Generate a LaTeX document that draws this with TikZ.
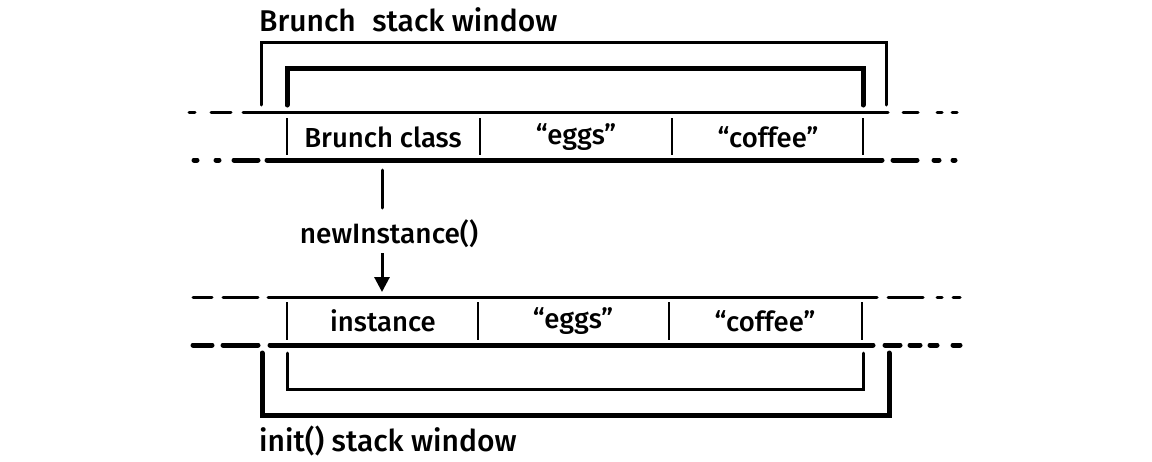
\documentclass[tikz,border=0pt]{standalone}
\usepackage{fontspec}
\setmainfont{Fira Sans}[UprightFont={* Medium}]
\usetikzlibrary{arrows.meta}
\begin{document}
\begin{tikzpicture}[x=1pt,y=-1pt,
  thinline/.style={line width=3pt, line cap=round},
  thickline/.style={line width=5pt, line cap=round},
  celltext/.style={font=\fontsize{27.5}{30}\selectfont, inner sep=0pt, anchor=center},
  labeltext/.style={font=\fontsize{30}{34}\selectfont, inner sep=0pt, anchor=west},
  divider/.style={line width=2.8pt}]
\useasboundingbox (0,0) rectangle (1152,461);

% ---------- top stack row ----------
\draw[thinline] (243,112) -- (888,112);
\draw[thinline] (189,112) -- (195,112);
\draw[thinline] (211,112) -- (231,112);
\draw[thinline] (903,112) -- (918,112);
\draw[thinline] (937,112) -- (942,112);
\draw[thinline] (952,112) -- (957,112);

\draw[thickline] (267,160) -- (882,160);
\draw[thickline] (194,160) -- (197,160);
\draw[thickline] (216,160) -- (219,160);
\draw[thickline] (234,160) -- (258,160);
\draw[thickline] (893,160) -- (917,160);
\draw[thickline] (934,160) -- (939,160);
\draw[thickline] (953,160) -- (955,160);

\foreach \x in {287,480,672,863} \draw[divider] (\x,118) -- (\x,155);

\node[celltext] (brunch) at (383,137) {Brunch class};
\node[celltext] (eggsA) at (576,137) {“eggs”};
\node[celltext] (coffeeA) at (768,137) {“coffee”};

% top brackets
\draw[thinline] (261,105) -- (261,42) -- (886,42) -- (886,105);
\draw[thickline] (287,105) -- (287,68) -- (863,68) -- (863,105);
\node[labeltext] (toplabel) at (259,20) {Brunch\hspace{0.3em} stack window};

% ---------- arrow ----------
\coordinate (a1) at (382,170);
\coordinate (a2) at (382,208);
\coordinate (a3) at (382,253);
\coordinate (a4) at (382,292);
\draw[thinline] (a1) -- (a2);
\node[font=\fontsize{28}{30}\selectfont, inner sep=0pt] (call) at (389,234) {newInstance()};
\draw[thinline, -{Triangle[length=15pt,width=15pt]}, line cap=butt] (a3) -- (a4);

% ---------- bottom stack row ----------
\draw[thinline] (268,297) -- (877,297);
\draw[thinline] (193,297) -- (212,297);
\draw[thinline] (223,297) -- (258,297);
\draw[thinline] (888,297) -- (923,297);
\draw[thinline] (937,297) -- (942,297);
\draw[thinline] (953,297) -- (960,297);

\draw[thickline] (270,345) -- (873,345);
\draw[thickline] (193,345) -- (212,345);
\draw[thickline] (223,345) -- (258,345);
\draw[thickline] (885,345) -- (900,345);
\draw[thickline] (910,345) -- (920,345);
\draw[thickline] (930,345) -- (937,345);
\draw[thickline] (953,345) -- (960,345);

\foreach \x in {287,478,669,862} \draw[divider] (\x,302) -- (\x,340);

\node[celltext] (inst) at (383,321) {instance};
\node[celltext] (eggsB) at (573,321) {“eggs”};
\node[celltext] (coffeeB) at (765,321) {“coffee”};

% bottom brackets
\draw[thinline] (287,353) -- (287,389) -- (863,389) -- (863,353);
\draw[thickline] (262,353) -- (262,415) -- (889,415) -- (889,353);
\node[labeltext] (botlabel) at (259,441) {init() stack window};
\end{tikzpicture}
\end{document}
